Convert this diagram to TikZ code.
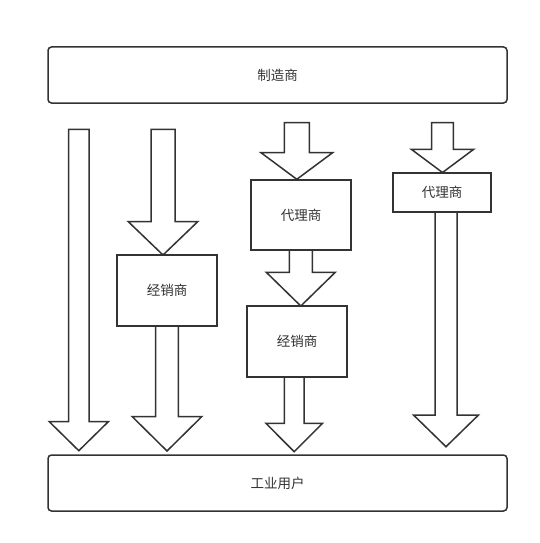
\documentclass[tikz,border=0pt]{standalone}
\usepackage{fontspec}
\newfontfamily\cjk{Noto Sans CJK SC}
\definecolor{ink}{HTML}{333333}
\begin{document}
\begin{tikzpicture}[x=1pt,y=-1pt,
  line width=1.5pt, line join=miter,
  box/.style={draw=ink, fill=white, inner sep=0pt, font=\cjk\fontsize{13.5}{15}\selectfont, text=ink},
  rbox/.style={box, rounded corners=3.5pt},
  blk/.style={draw=ink, fill=white}]
\useasboundingbox[fill=white] (0,0) rectangle (539,543);
% arrow: #1 centre x, #2 top y, #3 head base y, #4 tip y, #5 shaft half, #6 head half
\newcommand\barrow[6]{%
  \draw[blk] ({#1-#5},#2) -- ({#1+#5},#2) -- ({#1+#5},#3) -- ({#1+#6},#3)
    -- (#1,#4) -- ({#1-#6},#3) -- ({#1-#5},#3) -- cycle;}
% boxes
\node[rbox, minimum width=459pt, minimum height=56pt] (maker) at (277.5,75) {制造商};
\node[rbox, minimum width=459pt, minimum height=56pt] (user) at (277.5,483) {工业用户};
\node[box, minimum width=100pt, minimum height=71pt] (dealA) at (167,290.5) {经销商};
\node[box, minimum width=100pt, minimum height=70pt] (agentB) at (301,215) {代理商};
\node[box, minimum width=100pt, minimum height=71pt] (dealB) at (297,341.5) {经销商};
\node[box, minimum width=98pt, minimum height=39pt] (agentC) at (442,192.5) {代理商};
% arrows
\barrow{78.8}{129.3}{421.7}{450.7}{10.3}{29.5}
\barrow{163}{129.3}{221.7}{255}{12}{34.7}
\barrow{167}{326}{416.7}{451}{11.3}{34.7}
\barrow{296.8}{122.7}{152.7}{179.3}{12.5}{35.8}
\barrow{300.8}{250}{272.3}{306}{11.5}{34.5}
\barrow{294.2}{377}{423.3}{451.7}{9.8}{28.3}
\barrow{442.5}{122.7}{149.3}{172.5}{10.8}{31.2}
\barrow{446}{212}{415}{446.7}{11}{32.5}
\end{tikzpicture}
\end{document}
